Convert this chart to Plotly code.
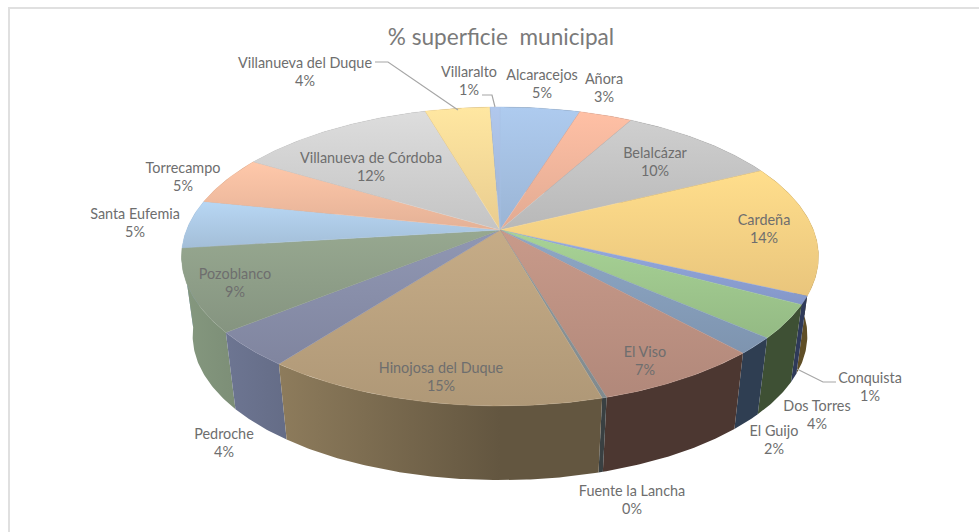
import math
import plotly.graph_objects as go

# ---- data -------------------------------------------------------------
municipios = ["Alcaracejos", "Añora", "Belalcázar", "Cardeña", "Conquista", "Dos Torres",
              "El Guijo", "El Viso", "Fuente la Lancha", "Hinojosa del Duque", "Pedroche",
              "Pozoblanco", "Santa Eufemia", "Torrecampo", "Villanueva de Córdoba",
              "Villanueva del Duque", "Villaralto"]
superficie = [4.8, 3.2, 9.7, 14.2, 0.9, 3.6, 1.8, 7.2, 0.2, 14.7, 3.8, 8.9, 5.2, 5.3, 11.9, 3.9, 0.6]

# ---- styles -----------------------------------------------------------
top_colors = ["#a6c2e4", "#f3b79e", "#c6c6c6", "#fbd486", "#8fa3d8", "#a0c98f", "#88a0bd", "#bf9384",
              "#8a9599", "#bda481", "#8a90ab", "#90a08a", "#b0cde9", "#f6bfa2", "#d3d3d3", "#fbdc9a", "#a9bfe2"]
wall_colors = ["#7d95b0", "#b08070", "#909090", "#9a7f3e", "#4d5f90", "#648255", "#4d6585", "#7c5a50",
               "#5d686c", "#a08c68", "#737c9a", "#85987f", "#80a0c0", "#c09070", "#a0a0a0", "#c0a060", "#7088b0"]
label_pos = {
    "Alcaracejos": (542, 85.5), "Añora": (604, 89.5), "Belalcázar": (655, 163.5), "Cardeña": (764, 230.5),
    "Conquista": (870, 388.5), "Dos Torres": (817, 416.5), "El Guijo": (774, 441.5), "El Viso": (645, 362.5),
    "Fuente la Lancha": (632, 501.5), "Hinojosa del Duque": (441, 378.5), "Pedroche": (224, 444.5),
    "Pozoblanco": (235, 284.5), "Santa Eufemia": (135, 224.5), "Torrecampo": (183, 178.5),
    "Villanueva de Córdoba": (371, 168.5), "Villanueva del Duque": (305, 73.5), "Villaralto": (469, 82.5),
}
leaders = [((375, 62), (388, 62), (458, 110)), ((482, 95), (492, 95), (495, 107)), ((836, 382), (823, 382), (797, 369))]
FONT = "Lato"
TXT = "#6e6e6e"

# ---- perspective disc --------------------------------------------------
CX, K = 500.0, 0.177
TOP_A, TOP_B, TOP_Y = 144.8, 313.5, 230.0
BOT_A, BOT_B, BOT_Y = 140.0, 302.5, 310.0


def disc(theta, a, b, y0):
    u, v = math.sin(theta), math.cos(theta)
    w = 1 + K * v
    return CX + b * u / w, y0 - a * v / w


def scale_color(hex_c, f):
    r, g, b = (int(hex_c[i:i + 2], 16) for i in (1, 3, 5))
    return f"rgb({min(255, int(r * f))},{min(255, int(g * f))},{min(255, int(b * f))})"


def arc(t0, t1, a, b, y0):
    n = max(2, int((t1 - t0) / 0.01))
    return [disc(t0 + (t1 - t0) * i / n, a, b, y0) for i in range(n + 1)]


total = sum(superficie)
edges = [0.0]
for val in superficie:
    edges.append(edges[-1] + val / total * 2 * math.pi)

fig = go.Figure()

# walls, back to front
order = sorted(range(len(superficie)), key=lambda i: math.cos((edges[i] + edges[i + 1]) / 2), reverse=True)
for i in order:
    t0, t1 = edges[i], edges[i + 1]
    upper = arc(t0, t1, TOP_A, TOP_B, TOP_Y)
    lower = arc(t0, t1, BOT_A, BOT_B, BOT_Y)
    poly = upper + lower[::-1] + [upper[0]]
    base = wall_colors[i]
    fig.add_trace(go.Scatter(
        x=[p[0] for p in poly], y=[p[1] for p in poly], mode="lines", fill="toself",
        line=dict(width=0), hoverinfo="skip", showlegend=False,
        fillgradient=dict(type="horizontal", start=182, stop=819,
                          colorscale=[[0, scale_color(base, 1.0)], [0.5, scale_color(base, 0.62)],
                                      [1, scale_color(base, 0.62)]]),
    ))

# top faces
for i in range(len(superficie)):
    rim = arc(edges[i], edges[i + 1], TOP_A, TOP_B, TOP_Y)
    poly = [(CX, TOP_Y)] + rim + [(CX, TOP_Y)]
    base = top_colors[i]
    ys = [p[1] for p in poly]
    fig.add_trace(go.Scatter(
        x=[p[0] for p in poly], y=ys, mode="lines", fill="toself",
        line=dict(width=0.4, color=base), name=municipios[i], hoverinfo="skip", showlegend=False,
        fillgradient=dict(type="vertical", start=min(ys), stop=max(ys),
                          colorscale=[[0, scale_color(base, 1.05)], [1, scale_color(base, 0.93)]]),
    ))

# leader lines
for pts in leaders:
    fig.add_trace(go.Scatter(x=[p[0] for p in pts], y=[p[1] for p in pts], mode="lines",
                             line=dict(width=1.2, color="#a6a6a6"), hoverinfo="skip", showlegend=False))

# labels
pct = [round(v / total * 100) for v in superficie]
fig.add_trace(go.Scatter(
    x=[label_pos[m][0] for m in municipios], y=[label_pos[m][1] for m in municipios], mode="text",
    text=[f"{m}<br>{p}%" for m, p in zip(municipios, pct)], textposition="middle center",
    textfont=dict(family=FONT, size=14.4, color=TXT), hoverinfo="skip", showlegend=False,
))

fig.update_layout(
    width=979, height=532, margin=dict(l=0, r=0, t=0, b=0),
    paper_bgcolor="white", plot_bgcolor="white",
    title=dict(text="% superficie\u00a0 municipal", x=501 / 979, y=1 - 37 / 532, xanchor="center", yanchor="middle",
               font=dict(family=FONT, size=22.6, color="#7a7a7a")),
    xaxis=dict(range=[0, 979], visible=False, fixedrange=True),
    yaxis=dict(range=[532, 0], visible=False, fixedrange=True),
    shapes=[dict(type="rect", xref="x", yref="y", x0=9, y0=8, x1=1100, y1=700,
                 line=dict(color="#e0e0e0", width=2), layer="below")],
)
fig.write_html("out.html", config=dict(displayModeBar=False),
               post_script="document.body.style.margin='0';")
